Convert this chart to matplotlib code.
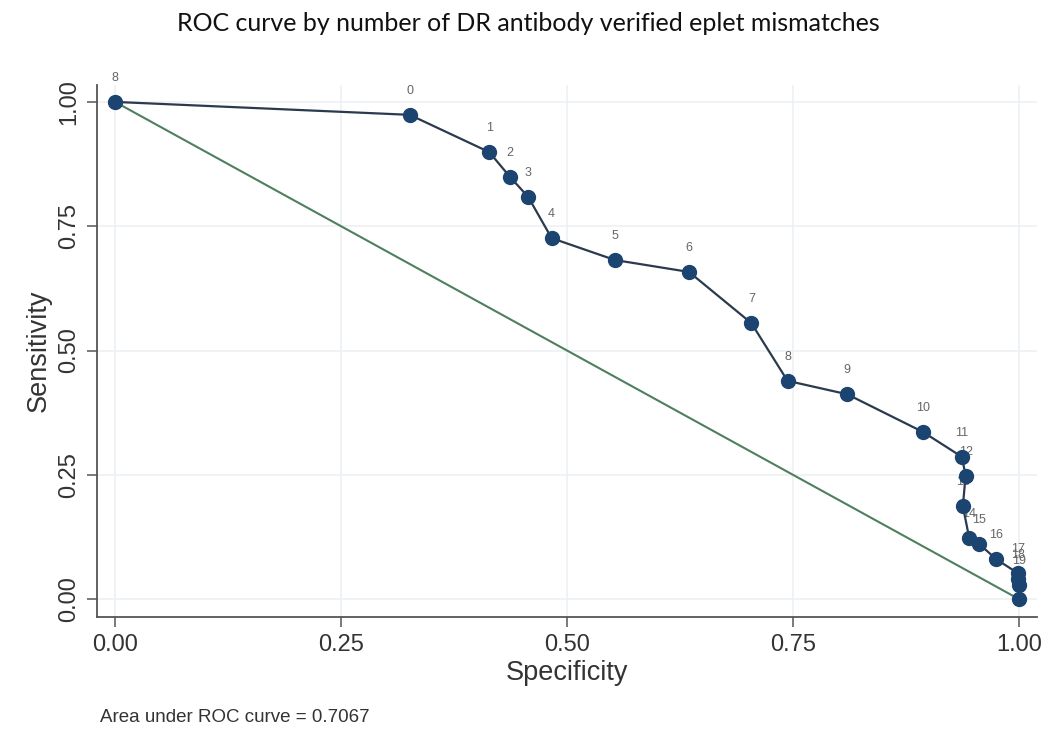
import matplotlib.pyplot as plt

# ROC points (specificity, sensitivity)
spec = [0.0, 0.326, 0.414, 0.437, 0.457, 0.483, 0.553, 0.635, 0.704, 0.744, 0.810,
        0.894, 0.937, 0.941, 0.938, 0.945, 0.956, 0.975, 0.999, 0.999, 1.0, 1.0]
sens = [1.0, 0.974, 0.899, 0.849, 0.809, 0.726, 0.682, 0.658, 0.555, 0.439, 0.412,
        0.336, 0.286, 0.248, 0.187, 0.123, 0.111, 0.080, 0.052, 0.040, 0.028, 0.0]
labels = ["8", "0", "1", "2", "3", "4", "5", "6", "7", "8", "9",
          "10", "11", "12", "13", "14", "15", "16", "17", "18", "19", ""]
ref_x = [0, 1]
ref_y = [1, 0]
ticks = [0.0, 0.25, 0.5, 0.75, 1.0]
auc_text = "Area under ROC curve = 0.7067"

plt.rcParams['font.family'] = ['Liberation Sans', 'DejaVu Sans']

fig = plt.figure(figsize=(10.5, 7.36), dpi=100)
ax = fig.add_axes([0.0924, 0.1617, 0.8952, 0.7228])

ax.plot(ref_x, ref_y, color='#4f7f5e', lw=1.5, zorder=2)
ax.plot(spec, sens, color='#2b3a4e', lw=1.6, marker='o', ms=10,
        mfc='#1c4470', mec='#1c4470', zorder=4)
for x, y, t in zip(spec, sens, labels):
    ax.annotate(t, (x, y), xytext=(0, 13), textcoords='offset points',
                ha='center', va='bottom', fontsize=9, color='#666666', zorder=3)

ax.set_xlim(-0.02, 1.02)
ax.set_ylim(-0.036, 1.034)
ax.set_xticks(ticks)
ax.set_yticks(ticks)
ax.set_xticklabels([f"{t:.2f}" for t in ticks], fontsize=17)
ax.set_yticklabels([f"{t:.2f}" for t in ticks], fontsize=17, rotation=90, va='center')
ax.grid(True, color='#edf1f3', lw=1.2)
ax.set_axisbelow(True)
for s in ['top', 'right']:
    ax.spines[s].set_visible(False)
for s in ['left', 'bottom']:
    ax.spines[s].set_color('#555555')
    ax.spines[s].set_linewidth(1.3)
ax.tick_params(length=7, width=1.1, color='#555555', labelcolor='#333333', pad=5)

ax.set_xlabel("Specificity", fontsize=19.5, color='#333333', labelpad=3)
ax.set_ylabel("Sensitivity", fontsize=19.5, color='#333333', labelpad=5)

fig.text(0.503, 0.968, "ROC curve by number of DR antibody verified eplet mismatches",
         ha='center', va='center', fontsize=18, color='#111111',
         family=['Lato', 'Liberation Sans', 'DejaVu Sans'])
fig.text(0.095, 0.025, auc_text, fontsize=13.5, color='#333333', va='center')

fig.savefig("out.png", dpi=100)
